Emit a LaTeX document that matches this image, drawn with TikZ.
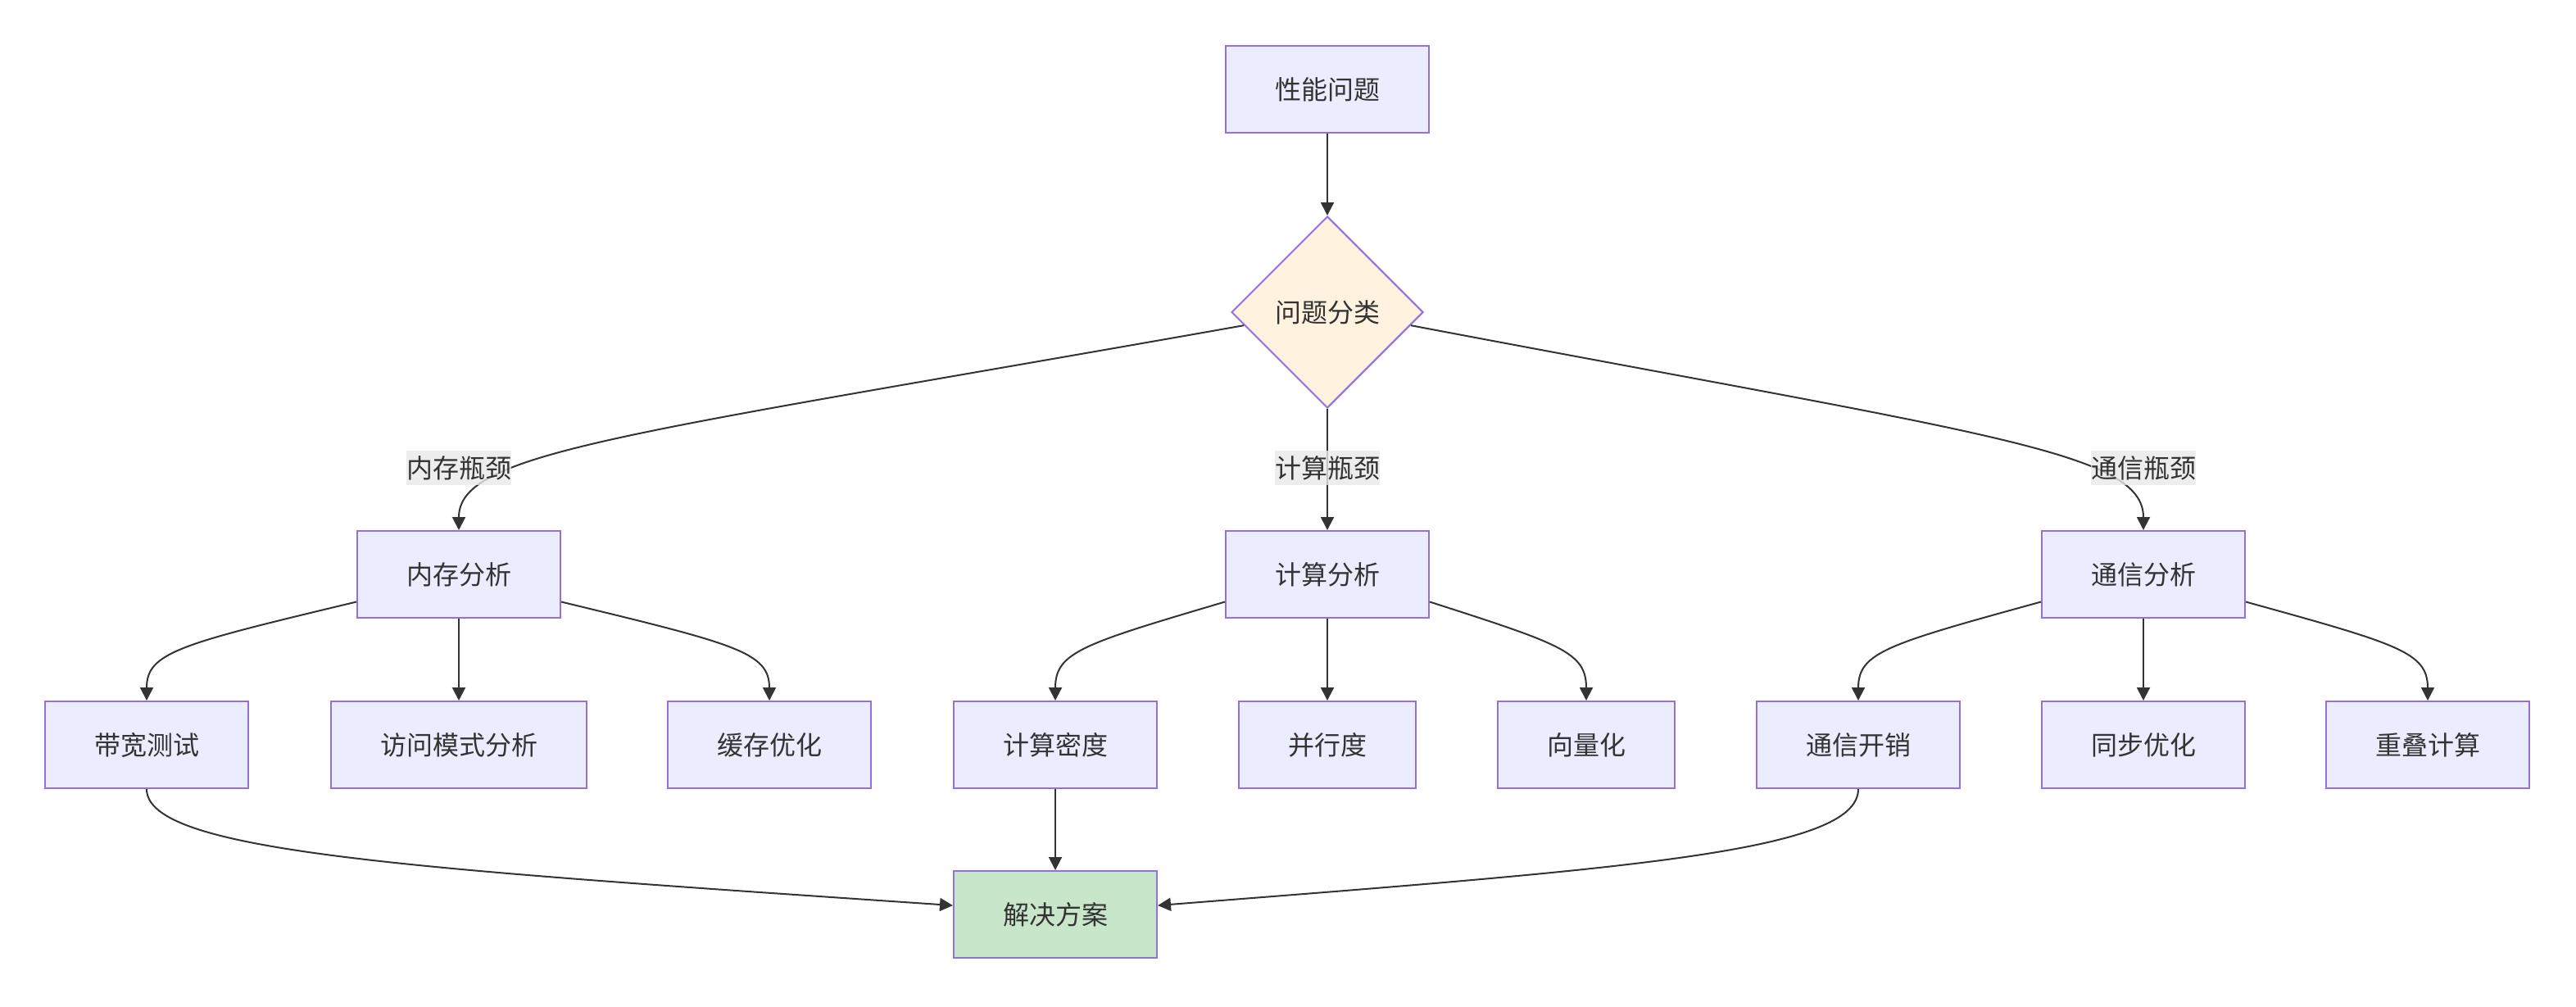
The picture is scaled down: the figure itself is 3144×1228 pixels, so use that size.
\documentclass[tikz,border=0pt]{standalone}
\usepackage{fontspec}
\setmainfont{Noto Sans CJK SC}
\usetikzlibrary{shapes.geometric,arrows.meta}

\definecolor{boxfill}{HTML}{ECECFF}
\definecolor{boxline}{HTML}{9370DB}
\definecolor{decfill}{HTML}{FFF3E0}
\definecolor{solfill}{HTML}{C8E6C9}
\definecolor{edgecol}{HTML}{333333}
\definecolor{lblfill}{HTML}{E8E8E8}

\tikzset{
    box/.style={rectangle, draw=boxline, fill=boxfill, line width=1pt, minimum height=53pt, inner xsep=30pt, text=edgecol, font=\fontsize{16pt}{19pt}\selectfont},
    decision/.style={diamond, draw=boxline, fill=decfill, line width=1pt, minimum width=117pt, minimum height=117pt, inner sep=0pt, text=edgecol, font=\fontsize{16pt}{19pt}\selectfont},
    solution/.style={box, fill=solfill},
    flow/.style={draw=edgecol, line width=1pt, -{Triangle[length=8pt,width=8pt]}},
    edgelabel/.style={fill=lblfill, fill opacity=0.8, text opacity=1, text=edgecol, inner xsep=0pt, inner ysep=0pt, minimum height=21pt, font=\fontsize{16pt}{19pt}\selectfont}
}

\begin{document}
\begin{tikzpicture}[x=0.5pt, y=-0.5pt]
    \useasboundingbox (0,0) rectangle (3144,1228);

    % top
    \node (perf) [box] at (1620,109) {性能问题};
    \node (classify) [decision] at (1620,381) {问题分类};

    % analysis row
    \node (memana) [box] at (560,701) {内存分析};
    \node (compana) [box] at (1620,701) {计算分析};
    \node (commana) [box] at (2616,701) {通信分析};

    % detail row
    \node (bwtest) [box] at (179,909) {带宽测试};
    \node (access) [box] at (560,909) {访问模式分析};
    \node (cache) [box] at (939,909) {缓存优化};
    \node (density) [box] at (1288,909) {计算密度};
    \node (parallel) [box] at (1620,909) {并行度};
    \node (vector) [box] at (1936,909) {向量化};
    \node (overhead) [box] at (2268,909) {通信开销};
    \node (sync) [box] at (2616,909) {同步优化};
    \node (overlap) [box] at (2963,909) {重叠计算};

    \node (solution) [solution] at (1288,1116) {解决方案};

    \draw [flow] (perf) -- (classify);
    \draw [flow] (classify.189) .. controls (762,531) and (560,551) .. (memana.north);
    \draw [flow] (classify) -- (compana);
    \draw [flow] (classify.351) .. controls (2428,531) and (2616,551) .. (commana.north);

    \node (lblmem) [edgelabel] at (560,571) {内存瓶颈};
    \node (lblcomp) [edgelabel] at (1620,571) {计算瓶颈};
    \node (lblcomm) [edgelabel] at (2616,571) {通信瓶颈};

    \draw [flow] (memana.195) .. controls (220,786) and (179,796) .. (bwtest.north);
    \draw [flow] (memana) -- (access);
    \draw [flow] (memana.345) .. controls (898,786) and (939,796) .. (cache.north);

    \draw [flow] (compana.195) .. controls (1321,786) and (1288,796) .. (density.north);
    \draw [flow] (compana) -- (parallel);
    \draw [flow] (compana.345) .. controls (1905,786) and (1936,796) .. (vector.north);

    \draw [flow] (commana.195) .. controls (2304,786) and (2268,796) .. (overhead.north);
    \draw [flow] (commana) -- (sync);
    \draw [flow] (commana.345) .. controls (2927,786) and (2963,796) .. (overlap.north);

    \draw [flow] (bwtest.south) .. controls (179,1040) and (500,1060) .. (solution.175);
    \draw [flow] (density) -- (solution);
    \draw [flow] (overhead.south) .. controls (2268,1040) and (1986,1060) .. (solution.5);
\end{tikzpicture}
\end{document}
